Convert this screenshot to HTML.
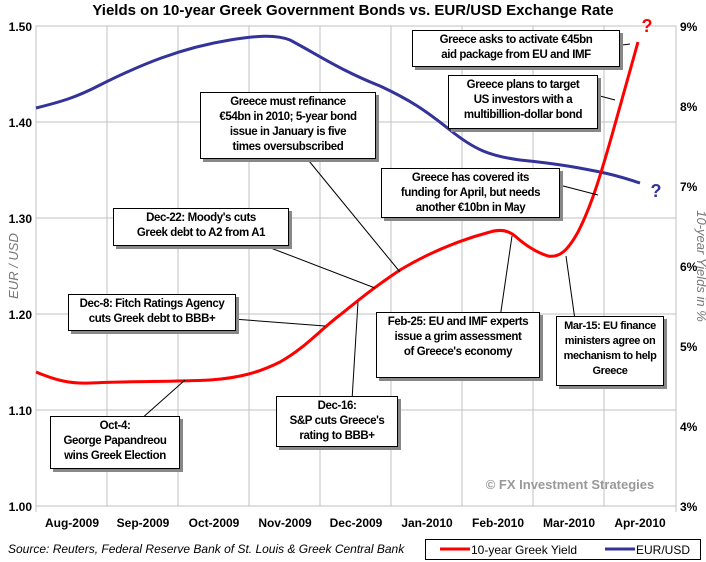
<!DOCTYPE html><html><head><meta charset="utf-8"><style>
body{margin:0;width:706px;height:562px;background:#fff;font-family:"Liberation Sans",sans-serif;overflow:hidden;position:relative}
.b{position:absolute;background:#fff;border:1px solid #000;box-shadow:3px 3px 0 #888;font-weight:bold;font-size:11.5px;letter-spacing:-0.4px;text-align:center;line-height:15px;padding:2px 2px;box-sizing:border-box;white-space:nowrap}
</style></head><body>
<svg width="706" height="562" style="position:absolute;left:0;top:0" font-family="Liberation Sans">
<text x="353" y="15" text-anchor="middle" font-size="15" font-weight="bold">Yields on 10-year Greek Government Bonds vs. EUR/USD Exchange Rate</text>
<g stroke="#c0c0c0" stroke-width="1">
<line x1="36" y1="26" x2="676" y2="26"/><line x1="36" y1="122" x2="676" y2="122"/><line x1="36" y1="218" x2="676" y2="218"/><line x1="36" y1="314" x2="676" y2="314"/><line x1="36" y1="410" x2="676" y2="410"/>
<line x1="107" y1="26" x2="107" y2="506"/><line x1="178" y1="26" x2="178" y2="506"/><line x1="249" y1="26" x2="249" y2="506"/><line x1="320" y1="26" x2="320" y2="506"/><line x1="391" y1="26" x2="391" y2="506"/><line x1="462" y1="26" x2="462" y2="506"/><line x1="533" y1="26" x2="533" y2="506"/><line x1="604" y1="26" x2="604" y2="506"/>
<line x1="36" y1="26" x2="36" y2="512"/><line x1="676" y1="26" x2="676" y2="512"/><line x1="36" y1="506" x2="676" y2="506"/>
</g>
<g font-size="12" font-weight="bold">
<text x="32" y="31" text-anchor="end">1.50</text><text x="32" y="127" text-anchor="end">1.40</text><text x="32" y="223" text-anchor="end">1.30</text><text x="32" y="319" text-anchor="end">1.20</text><text x="32" y="415" text-anchor="end">1.10</text><text x="32" y="511" text-anchor="end">1.00</text>
<text x="680" y="31">9%</text><text x="680" y="111">8%</text><text x="680" y="191">7%</text><text x="680" y="271">6%</text><text x="680" y="351">5%</text><text x="680" y="431">4%</text><text x="680" y="511">3%</text>
<g text-anchor="middle"><text x="72" y="527">Aug-2009</text><text x="143" y="527">Sep-2009</text><text x="214" y="527">Oct-2009</text><text x="285" y="527">Nov-2009</text><text x="356" y="527">Dec-2009</text><text x="427" y="527">Jan-2010</text><text x="498" y="527">Feb-2010</text><text x="569" y="527">Mar-2010</text><text x="640" y="527">Apr-2010</text></g>
</g>
<text transform="translate(18,266) rotate(-90)" text-anchor="middle" font-size="13" font-style="italic" fill="#777">EUR / USD</text>
<text transform="translate(697,266) rotate(90)" text-anchor="middle" font-size="13" font-style="italic" fill="#777">10-year Yields in %</text>
<text x="570" y="489" text-anchor="middle" font-size="13" font-weight="bold" fill="#999">©  FX Investment Strategies</text>
<path d="M36,108 C60,102 75,98 100,85 C140,65 180,48 230,40 C255,36 275,34 290,40 C320,56 340,70 380,86 C410,100 425,110 450,130 C475,150 490,156 520,160 C560,164 580,168 600,172 C620,176 630,180 640,183" fill="none" stroke="#333399" stroke-width="3"/>
<text x="656" y="197" text-anchor="middle" font-size="18" font-weight="bold" fill="#333399">?</text>
<path d="M36,372 C55,380 70,384 90,383 C130,381 170,382 210,380 C240,378 260,372 280,362 C305,348 320,330 340,315 C355,303 370,290 400,270 C430,252 460,240 490,232 C500,229 508,230 515,236 C525,245 535,252 548,256 C560,258 568,250 578,232 C592,205 602,170 612,135 C622,100 630,70 638,42" fill="none" stroke="#ff0000" stroke-width="3"/>
<text x="647" y="32" text-anchor="middle" font-size="18" font-weight="bold" fill="#ff0000">?</text>
<g stroke="#000" stroke-width="1" fill="none">
<line x1="600" y1="48" x2="630" y2="44"/><line x1="585" y1="92" x2="615" y2="100"/><line x1="300" y1="150" x2="400" y2="272"/><line x1="540" y1="180" x2="598" y2="195"/><line x1="250" y1="240" x2="375" y2="288"/><line x1="220" y1="318" x2="325" y2="326"/><line x1="500" y1="318" x2="512" y2="236"/><line x1="575" y1="320" x2="566" y2="256"/><line x1="352" y1="400" x2="358" y2="302"/><line x1="140" y1="420" x2="185" y2="380"/>
</g>
<rect x="425.5" y="539.5" width="275" height="20" fill="#fff" stroke="#000"/>
<line x1="440" y1="549" x2="470" y2="549" stroke="#f00" stroke-width="3"/><text x="471" y="554" font-size="12">10-year Greek Yield</text>
<line x1="605" y1="549" x2="635" y2="549" stroke="#333399" stroke-width="3"/><text x="636" y="554" font-size="12">EUR/USD</text>
<text x="8" y="553" font-size="12" font-style="italic">Source: Reuters, Federal Reserve Bank of St. Louis &amp; Greek Central Bank</text>
</svg>
<div class="b" style="left:412px;top:30px;width:208px;height:37px">Greece asks to activate €45bn<br>aid package from EU and IMF</div>
<div class="b" style="left:448px;top:75px;width:150px;height:54px">Greece plans to target<br>US investors with a<br>multibillion-dollar bond</div>
<div class="b" style="left:200px;top:92px;width:176px;height:67px">Greece must refinance<br>€54bn in 2010; 5-year bond<br>issue in January is five<br>times oversubscribed</div>
<div class="b" style="left:381px;top:168px;width:179px;height:50px">Greece has covered its<br>funding for April, but needs<br>another €10bn in May</div>
<div class="b" style="left:113px;top:208px;width:176px;height:38px">Dec-22:  Moody's cuts<br>Greek debt to A2 from A1</div>
<div class="b" style="left:68px;top:294px;width:168px;height:37px">Dec-8: Fitch Ratings Agency<br>cuts Greek debt to BBB+</div>
<div class="b" style="left:376px;top:312px;width:164px;height:66px">Feb-25: EU and IMF experts<br>issue a grim assessment<br>of Greece's economy</div>
<div class="b" style="left:556px;top:316px;width:108px;height:70px;font-size:11px">Mar-15: EU finance<br>ministers agree on<br>mechanism to help<br>Greece</div>
<div class="b" style="left:276px;top:396px;width:122px;height:51px">Dec-16:<br>S&amp;P cuts Greece's<br>rating to BBB+</div>
<div class="b" style="left:50px;top:416px;width:130px;height:53px">Oct-4:<br>George Papandreou<br>wins Greek Election</div>
</body></html>
